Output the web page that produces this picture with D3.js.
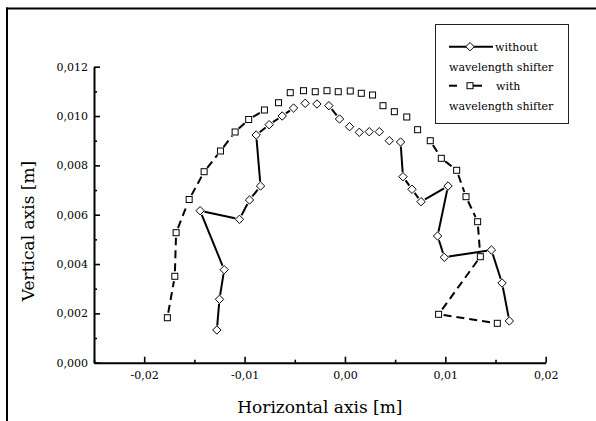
<!DOCTYPE html>
<html>
<head>
<meta charset="utf-8">
<script src="https://cdn.jsdelivr.net/npm/d3@7"></script>
<style>
  html, body { margin: 0; padding: 0; background: #fff; }
  svg { display: block; }
  text { font-family: "DejaVu Serif", serif; fill: #000; }
</style>
</head>
<body>
<svg id="chart" width="596" height="421"></svg>
<script>
// ---- data ----
const withoutX = [-0.01276,-0.01250,-0.01203,-0.01443,-0.01051,-0.00951,-0.00841,-0.00884,-0.00755,-0.00625,
                  -0.00512,-0.00396,-0.00279,-0.00160,-0.00054,0.00046,0.00143,0.00242,0.00342,0.00442,
                  0.00554,0.00578,0.00668,0.00758,0.01027,0.00923,0.00990,0.01459,0.01565,0.01638];
const withoutY = [0.001326,0.002570,0.003770,0.006162,0.005813,0.006596,0.007163,0.009231,0.009649,0.010001,
                  0.010325,0.010516,0.010488,0.010419,0.009880,0.009567,0.009340,0.009365,0.009365,0.009000,
                  0.008947,0.007540,0.007030,0.006527,0.007163,0.005136,0.004273,0.004569,0.003231,0.001691];
const withX = [-0.01769,-0.01695,-0.01682,-0.01552,-0.01403,-0.01240,-0.01094,-0.00959,-0.00802,-0.00662,
               -0.00545,-0.00413,-0.00296,-0.00179,-0.00067,0.00053,0.00163,0.00275,0.00379,0.00492,
               0.00616,0.00724,0.00850,0.00960,0.01113,0.01206,0.01322,0.01349,0.00933,0.01518];
const withY = [0.001824,0.003503,0.005270,0.006616,0.007743,0.008582,0.009353,0.009859,0.010245,0.010540,
               0.010946,0.011027,0.010986,0.011027,0.010986,0.011015,0.010922,0.010853,0.010419,0.010176,
               0.009961,0.009446,0.009000,0.008286,0.007800,0.006730,0.005716,0.004297,0.001962,0.001597];

const xTickValues = [-0.02, -0.01, 0.00, 0.01, 0.02];
const xTickLabels = ["-0,02", "-0,01", "0,00", "0,01", "0,02"];
const xMinorValues = [-0.025, -0.015, -0.005, 0.005, 0.015];
const yTickValues = [0, 0.002, 0.004, 0.006, 0.008, 0.010, 0.012];
const yTickLabels = ["0,000", "0,002", "0,004", "0,006", "0,008", "0,010", "0,012"];
const yMinorValues = [0.001, 0.003, 0.005, 0.007, 0.009, 0.011];
const legendLines = [["without", "wavelength shifter"], ["with", "wavelength shifter"]];
const xTitle = "Horizontal axis [m]";
const yTitle = "Vertical axis [m]";

// ---- layout ----
const svg = d3.select("#chart");
const x = d3.scaleLinear().domain([-0.025, 0.02]).range([94, 545.7]);
const y = d3.scaleLinear().domain([0, 0.012]).range([362.7, 66.7]);

// outer frame (top + left)
svg.append("line").attr("x1", 6).attr("x2", 596).attr("y1", 8.5).attr("y2", 8.5)
  .attr("stroke", "#000").attr("stroke-width", 2);
svg.append("line").attr("x1", 7).attr("x2", 7).attr("y1", 7.5).attr("y2", 421)
  .attr("stroke", "#000").attr("stroke-width", 2);

// axes
const gx = svg.append("g").attr("transform", `translate(0,${y(0)})`)
  .call(d3.axisBottom(x).tickValues(xTickValues).tickFormat((d, i) => xTickLabels[i])
        .tickSizeInner(-6).tickSizeOuter(0).tickPadding(8.5));
const gxm = svg.append("g").attr("transform", `translate(0,${y(0)})`)
  .call(d3.axisBottom(x).tickValues(xMinorValues).tickFormat("").tickSizeInner(-3).tickSizeOuter(0));
const gy = svg.append("g").attr("transform", `translate(${x(-0.025)},0)`)
  .call(d3.axisLeft(y).tickValues(yTickValues).tickFormat((d, i) => yTickLabels[i])
        .tickSizeInner(-6).tickSizeOuter(0).tickPadding(6));
const gym = svg.append("g").attr("transform", `translate(${x(-0.025)},0)`)
  .call(d3.axisLeft(y).tickValues(yMinorValues).tickFormat("").tickSizeInner(-3).tickSizeOuter(0));

[gx, gxm, gy, gym].forEach(g => {
  g.select(".domain").attr("stroke", "#000").attr("stroke-width", 2);
  g.selectAll(".tick line").attr("stroke", "#000").attr("stroke-width", 1.6);
  g.selectAll(".tick text").style("font-family", "DejaVu Serif").style("font-size", "11px").attr("fill", "#000");
});
gxm.select(".domain").remove();
gym.select(".domain").remove();

// axis titles
svg.append("text").attr("x", (x.range()[0] + x.range()[1]) / 2).attr("y", 413)
  .attr("text-anchor", "middle").style("font-size", "17px").text(xTitle);
svg.append("text").attr("transform", "translate(34,231) rotate(-90)")
  .attr("text-anchor", "middle").style("font-size", "17px").text(yTitle);

// ---- series ----
// line segments are drawn with a gap around each symbol (very short links vanish)
function gappedSegments(xs, ys, gap, minLen) {
  const out = [];
  for (let i = 0; i < xs.length - 1; i++) {
    const x1 = x(xs[i]), y1 = y(ys[i]), x2 = x(xs[i + 1]), y2 = y(ys[i + 1]);
    const d = Math.hypot(x2 - x1, y2 - y1);
    if (d - 2 * gap < minLen) continue;
    const ux = (x2 - x1) / d, uy = (y2 - y1) / d;
    out.push([x1 + ux * gap, y1 + uy * gap, x2 - ux * gap, y2 - uy * gap]);
  }
  return out;
}

const diamond = "M0,-4.2L4.2,0L0,4.2L-4.2,0Z";

// "without" : solid line + diamonds
svg.append("g").selectAll("line").data(gappedSegments(withoutX, withoutY, 4.5, 4.7)).join("line")
  .attr("x1", d => d[0]).attr("y1", d => d[1]).attr("x2", d => d[2]).attr("y2", d => d[3])
  .attr("stroke", "#000").attr("stroke-width", 2);
// "with" : dashed line + squares
svg.append("g").selectAll("line").data(gappedSegments(withX, withY, 5, 7.4)).join("line")
  .attr("x1", d => d[0]).attr("y1", d => d[1]).attr("x2", d => d[2]).attr("y2", d => d[3])
  .attr("stroke", "#000").attr("stroke-width", 2).attr("stroke-dasharray", "8,5");

svg.append("g").selectAll("path").data(withoutX.map((v, i) => [v, withoutY[i]])).join("path")
  .attr("d", diamond).attr("transform", d => `translate(${x(d[0])},${y(d[1])})`)
  .attr("fill", "#fff").attr("stroke", "#000").attr("stroke-width", 1);
svg.append("g").selectAll("rect").data(withX.map((v, i) => [v, withY[i]])).join("rect")
  .attr("x", d => x(d[0]) - 3).attr("y", d => y(d[1]) - 3).attr("width", 6).attr("height", 6)
  .attr("fill", "#fff").attr("stroke", "#000").attr("stroke-width", 1);

// ---- legend ----
const lg = svg.append("g");
lg.append("rect").attr("x", 435.5).attr("y", 24.5).attr("width", 133).attr("height", 99)
  .attr("fill", "#fff").attr("stroke", "#222").attr("stroke-width", 1);
// entry 1
lg.append("line").attr("x1", 449).attr("x2", 493).attr("y1", 46.7).attr("y2", 46.7)
  .attr("stroke", "#000").attr("stroke-width", 2);
lg.append("path").attr("d", diamond).attr("transform", "translate(470,46.7)")
  .attr("fill", "#fff").attr("stroke", "#000");
lg.append("text").attr("x", 495).attr("y", 50.5).style("font-size", "11px").text(legendLines[0][0]);
lg.append("text").attr("x", 449).attr("y", 70.5).style("font-size", "11px").text(legendLines[0][1]);
// entry 2
lg.append("line").attr("x1", 449).attr("x2", 457).attr("y1", 85.7).attr("y2", 85.7)
  .attr("stroke", "#000").attr("stroke-width", 2);
lg.append("line").attr("x1", 473).attr("x2", 482).attr("y1", 85.7).attr("y2", 85.7)
  .attr("stroke", "#000").attr("stroke-width", 2);
lg.append("rect").attr("x", 467).attr("y", 82.7).attr("width", 6).attr("height", 6)
  .attr("fill", "#fff").attr("stroke", "#000");
lg.append("text").attr("x", 496).attr("y", 89.5).style("font-size", "11px").text(legendLines[1][0]);
lg.append("text").attr("x", 449).attr("y", 109.5).style("font-size", "11px").text(legendLines[1][1]);
</script>
</body>
</html>
